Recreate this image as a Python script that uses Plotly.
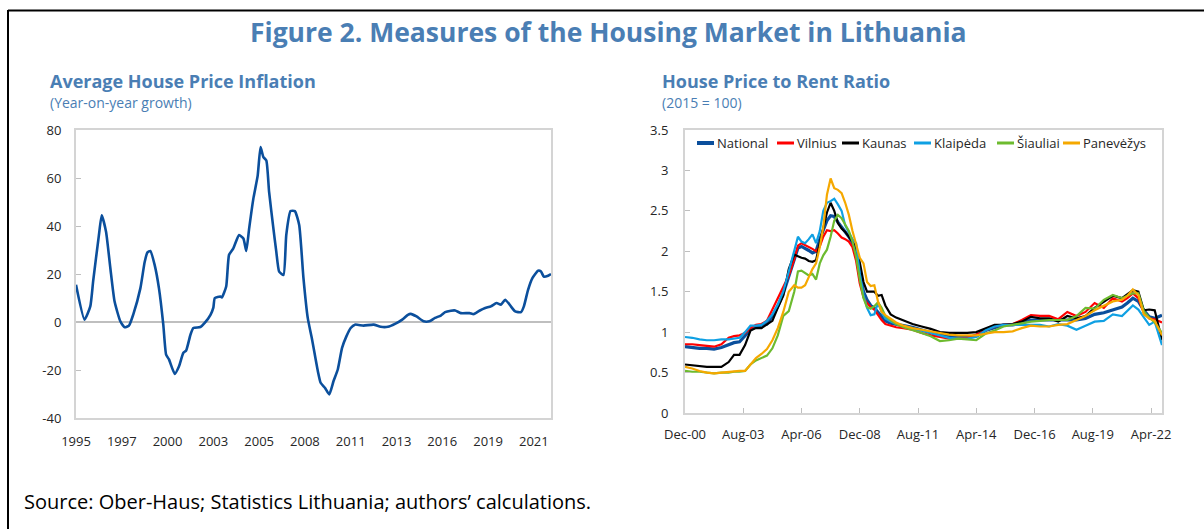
import plotly.graph_objects as go

W, H = 1204, 529

# ---------------- Left chart: Average House Price Inflation (y/y, %) ----------------
infl_dates = ["1995-01","1995-07","1995-11","1996-01","1996-05","1996-07","1996-10","1997-01","1997-04","1997-08",
              "1997-11","1998-02","1998-05","1998-10","1999-01","1999-03","1999-05","1999-08","1999-11","2000-02",
              "2000-04","2000-06","2000-10","2001-01","2001-04","2001-06","2001-09","2001-11","2002-04","2002-07",
              "2002-11","2003-01","2003-02","2003-06","2003-07","2003-10","2003-12","2004-03","2004-07","2004-10",
              "2004-12","2005-02","2005-05","2005-08","2005-10","2005-12","2006-02","2006-04","2006-07","2006-09",
              "2006-11","2007-02","2007-04","2007-07","2007-10","2008-01","2008-04","2008-07","2008-10","2009-02",
              "2009-04","2009-07","2009-10","2010-01","2010-04","2010-07","2010-10","2011-01","2011-04","2011-10",
              "2012-05","2012-10","2013-03","2013-08","2014-01","2014-05","2014-07","2014-11","2015-04","2015-08",
              "2015-12","2016-04","2016-07","2016-11","2017-02","2017-06","2017-12","2018-03","2018-07","2018-11",
              "2019-03","2019-07","2019-10","2020-01","2020-05","2020-08","2020-12","2021-02","2021-05","2021-08",
              "2021-12","2022-02","2022-04","2022-07","2022-09"]
infl_values = [15.5, 1, 6.5, 17, 36, 44.5, 37.6, 22.4, 8.5, 0.3,
               -2.2, -1.5, 3, 14, 25, 29, 29.6, 23.8, 14, -1.1,
               -13.6, -15.6, -21.6, -18.4, -12.9, -11.9, -5.3, -2.5, -2.1, -0.4,
               3, 6, 10, 10.6, 10.2, 14.8, 28, 30.7, 36.2, 34.8,
               29.6, 39, 51.4, 61, 72.9, 68.7, 67.3, 54.2, 39, 29.3,
               21, 19.6, 36.2, 46.2, 46.2, 40.4, 18.3, 1.7, -7.3, -20.5,
               -25.3, -27.4, -30.2, -24.6, -19.8, -10.8, -6, -2.5, -1.1, -1.5,
               -1.1, -2, -2, -0.8, 1, 3, 3.4, 2.3, 0.3, 0.3,
               1.7, 2.7, 4.1, 4.7, 4.8, 3.7, 3.7, 3.3, 4.7, 5.8,
               6.5, 7.9, 7.2, 9.3, 6.5, 4.4, 4.1, 6.5, 13.4, 18.3,
               21.4, 21, 18.9, 19.3, 20]
infl_range = ["1995-01-01", "2022-09-01"]
infl_tickvals = ["1995-01-01", "1997-09-01", "2000-05-01", "2003-01-01", "2005-09-01", "2008-05-01",
                 "2011-01-01", "2013-09-01", "2016-05-01", "2019-01-01", "2021-09-01"]
infl_ticktext = ["1995", "1997", "2000", "2003", "2005", "2008", "2011", "2013", "2016", "2019", "2021"]
infl_yvals = [-40, -20, 0, 20, 40, 60, 80]
infl_ytext = ["-40", "-20", "0", "20", "40", "60", "80"]

# ---------------- Right chart: House Price to Rent Ratio (2015 = 100) ----------------
ratio_dates = ["2000-12","2001-04","2001-08","2001-12","2002-04","2002-08","2002-12",
               "2003-03","2003-06","2003-09","2003-12","2004-03","2004-06","2004-09","2004-12","2005-03","2005-06","2005-09","2005-12",
               "2006-02","2006-04","2006-06","2006-08","2006-10","2006-12","2007-02","2007-04","2007-06","2007-08","2007-10","2007-12","2008-02","2008-04","2008-06","2008-08","2008-10","2008-12",
               "2009-02","2009-04","2009-06","2009-08","2009-10","2009-12","2010-02",
               "2010-05","2010-08","2010-12",
               "2011-05","2011-10","2012-03","2012-08","2013-01","2013-06","2013-11","2014-04","2014-09","2015-02","2015-07","2015-12","2016-05","2016-10","2017-03","2017-08","2018-01","2018-06","2018-11","2019-04","2019-09","2020-02","2020-07","2020-12",
               "2021-03","2021-06","2021-09","2021-12","2022-03","2022-06","2022-10"]
national = [0.82, 0.81, 0.80, 0.80, 0.79, 0.81, 0.85,
            0.87, 0.88, 0.95, 1.03, 1.07, 1.08, 1.10, 1.20, 1.32, 1.48, 1.70, 1.90,
            2.04, 2.06, 2.04, 2.01, 1.98, 2.00, 2.15, 2.27, 2.38, 2.44, 2.43, 2.36, 2.30, 2.24, 2.18, 2.10, 2.04, 1.75,
            1.50, 1.40, 1.33, 1.30, 1.25, 1.19, 1.14,
            1.11, 1.10, 1.08,
            1.06, 1.03, 1.00, 0.96, 0.95, 0.94, 0.94, 0.95, 1.02, 1.06, 1.09, 1.09, 1.11, 1.15, 1.15, 1.15, 1.15, 1.15, 1.15, 1.17, 1.22, 1.24, 1.27, 1.31,
            1.36, 1.42, 1.38, 1.27, 1.19, 1.17, 1.21]
vilnius = [0.85, 0.85, 0.84, 0.83, 0.82, 0.85, 0.93,
           0.95, 0.96, 0.99, 1.05, 1.09, 1.10, 1.14, 1.28, 1.42, 1.55, 1.70, 1.90,
           2.07, 2.10, 2.08, 2.05, 2.03, 2.00, 2.06, 2.18, 2.26, 2.25, 2.26, 2.22, 2.17, 2.15, 2.12, 2.05, 1.88, 1.60,
           1.43, 1.36, 1.31, 1.28, 1.21, 1.15, 1.10,
           1.08, 1.06, 1.05,
           1.03, 0.99, 0.96, 0.94, 0.92, 0.92, 0.93, 0.97, 1.02, 1.07, 1.09, 1.10, 1.15, 1.21, 1.20, 1.20, 1.16, 1.25, 1.20, 1.25, 1.36, 1.30, 1.42, 1.38,
           1.42, 1.48, 1.42, 1.24, 1.17, 1.16, 1.12]
kaunas = [0.60, 0.59, 0.58, 0.57, 0.57, 0.57, 0.63,
          0.72, 0.72, 0.84, 1.02, 1.05, 1.05, 1.10, 1.14, 1.30, 1.45, 1.78, 1.96,
          1.94, 1.92, 1.91, 1.88, 1.87, 1.89, 2.10, 2.30, 2.48, 2.60, 2.50, 2.35, 2.28, 2.24, 2.18, 2.12, 2.04, 1.86,
          1.62, 1.50, 1.50, 1.50, 1.45, 1.46, 1.33,
          1.22, 1.18, 1.14,
          1.10, 1.07, 1.04, 1.00, 0.99, 0.99, 0.99, 1.00, 1.05, 1.09, 1.09, 1.10, 1.13, 1.19, 1.17, 1.17, 1.13, 1.20, 1.17, 1.20, 1.30, 1.38, 1.45, 1.42,
          1.47, 1.52, 1.50, 1.27, 1.28, 1.27, 0.90]
klaipeda = [0.94, 0.93, 0.91, 0.90, 0.90, 0.91, 0.91,
            0.92, 0.93, 1.00, 1.08, 1.08, 1.09, 1.14, 1.22, 1.34, 1.50, 1.75, 2.00,
            2.18, 2.12, 2.10, 2.15, 2.21, 2.10, 2.25, 2.50, 2.60, 2.62, 2.65, 2.58, 2.50, 2.32, 2.23, 2.15, 2.10, 1.72,
            1.46, 1.30, 1.21, 1.22, 1.36, 1.25, 1.17,
            1.13, 1.10, 1.07,
            1.04, 1.02, 0.99, 0.96, 0.93, 0.92, 0.92, 0.94, 1.02, 1.07, 1.09, 1.09, 1.09, 1.09, 1.09, 1.07, 1.10, 1.08, 1.03, 1.08, 1.13, 1.14, 1.22, 1.20,
            1.27, 1.33, 1.28, 1.18, 1.09, 1.13, 0.84]
siauliai = [0.52, 0.51, 0.51, 0.50, 0.49, 0.50, 0.50,
            0.51, 0.51, 0.52, 0.60, 0.65, 0.68, 0.71, 0.80, 0.96, 1.20, 1.26, 1.50,
            1.75, 1.76, 1.73, 1.70, 1.72, 1.65, 1.85, 1.95, 2.02, 2.18, 2.38, 2.45, 2.41, 2.33, 2.25, 2.12, 1.93, 1.65,
            1.42, 1.31, 1.29, 1.32, 1.37, 1.30, 1.20,
            1.15, 1.10, 1.06,
            1.03, 0.99, 0.95, 0.89, 0.90, 0.92, 0.91, 0.90, 0.98, 1.02, 1.07, 1.09, 1.11, 1.13, 1.14, 1.15, 1.15, 1.15, 1.20, 1.30, 1.29, 1.40, 1.46, 1.42,
            1.45, 1.48, 1.48, 1.26, 1.18, 1.12, 0.99]
panevezys = [0.57, 0.55, 0.52, 0.50, 0.49, 0.50, 0.51,
             0.51, 0.52, 0.52, 0.60, 0.68, 0.73, 0.79, 0.90, 1.05, 1.25, 1.50, 1.58,
             1.55, 1.55, 1.58, 1.68, 1.78, 1.85, 2.05, 2.30, 2.70, 2.90, 2.78, 2.76, 2.72, 2.60, 2.45, 2.25, 2.10, 1.92,
             1.85, 1.62, 1.57, 1.58, 1.38, 1.25, 1.21,
             1.17, 1.12, 1.08,
             1.05, 1.03, 1.01, 0.99, 0.97, 0.96, 0.96, 0.96, 0.98, 1.00, 1.00, 1.01, 1.05, 1.08, 1.07, 1.07, 1.09, 1.10, 1.15, 1.20, 1.27, 1.33, 1.38, 1.40,
             1.45, 1.53, 1.46, 1.22, 1.17, 1.14, 0.96]
series_names = ["National", "Vilnius", "Kaunas", "Klaipėda", "Šiauliai", "Panevėžys"]
series_values = [national, vilnius, kaunas, klaipeda, siauliai, panevezys]
series_colors = ["#0B4F9C", "#FF0000", "#000000", "#0FA0E3", "#6DBB2F", "#F5A800"]
series_widths = [3.2, 2.2, 2.2, 2.2, 2.2, 2.2]
ratio_range = ["2000-12-01", "2022-10-01"]
ratio_tickvals = ["2000-12-01", "2003-08-01", "2006-04-01", "2008-12-01", "2011-08-01",
                  "2014-04-01", "2016-12-01", "2019-08-01", "2022-04-01"]
ratio_ticktext = ["Dec-00", "Aug-03", "Apr-06", "Dec-08", "Aug-11", "Apr-14", "Dec-16", "Aug-19", "Apr-22"]

# ---------------- Layout helpers (pixel -> paper) ----------------
def fx(px):
    return px / W

def fy(py):
    return 1 - py / H

BLUE_T = "#4A7EB4"
FRAME = "#D4D4D4"
TICKC = "#BFBFBF"
TXT = "#262626"
FONT = "Open Sans"

L_X0, L_X1, L_Y0, L_Y1 = 76, 551, 130, 418
R_X0, R_X1, R_Y0, R_Y1 = 685, 1162, 130, 413

fig = go.Figure()

fig.add_trace(go.Scatter(x=infl_dates, y=infl_values, mode="lines",
                         line=dict(color="#0B4F9C", width=2.6, shape="spline", smoothing=0.5),
                         xaxis="x", yaxis="y", showlegend=False, name="Average House Price Inflation"))

for name, vals, col, w in zip(series_names, series_values, series_colors, series_widths):
    fig.add_trace(go.Scatter(x=ratio_dates, y=vals, mode="lines", name=name,
                             line=dict(color=col, width=w), xaxis="x2", yaxis="y2",
                             showlegend=False))

ymin, ymax = -40, 80
zero_pos = fy(L_Y1) + (0 - ymin) / (ymax - ymin) * (fy(L_Y0) - fy(L_Y1))

axis_font = dict(family=FONT, size=13, color=TXT)

fig.update_layout(
    width=W, height=H,
    margin=dict(l=0, r=0, t=0, b=0, pad=0, autoexpand=False),
    paper_bgcolor="white", plot_bgcolor="white",
    showlegend=False,
    xaxis=dict(domain=[fx(L_X0), fx(L_X1)], type="date", range=infl_range,
               tickvals=infl_tickvals, ticktext=infl_ticktext, ticks="",
               showgrid=False, zeroline=False, showline=True, linecolor=FRAME, linewidth=2,
               mirror=True, tickfont=axis_font, ticklabelstandoff=10, anchor="y", automargin=False),
    yaxis=dict(domain=[fy(L_Y1), fy(L_Y0)], range=[ymin, ymax], tickvals=infl_yvals, ticktext=infl_ytext,
               ticks="inside", ticklen=5, tickcolor=TICKC, showgrid=False,
               zeroline=True, zerolinecolor=TICKC, zerolinewidth=1.5,
               showline=True, linecolor=FRAME, linewidth=2, mirror=True,
               tickfont=axis_font, ticklabelstandoff=10, anchor="x", automargin=False),
    xaxis3=dict(overlaying="x", anchor="free", position=zero_pos, type="date", range=infl_range,
                tickvals=infl_tickvals, ticks="inside", ticklen=5, tickcolor=TICKC, tickwidth=1,
                showticklabels=False, showgrid=False, zeroline=False, showline=False, automargin=False),
    xaxis2=dict(domain=[fx(R_X0), fx(R_X1)], type="date", range=ratio_range,
                tickvals=ratio_tickvals, ticktext=ratio_ticktext, ticks="inside", ticklen=5,
                tickcolor=TICKC, showgrid=False, zeroline=False, showline=True, linecolor=FRAME,
                linewidth=2, mirror=True, tickfont=axis_font, ticklabelstandoff=8, anchor="y2",
                automargin=False),
    yaxis2=dict(domain=[fy(R_Y1), fy(R_Y0)], range=[0, 3.5], dtick=0.5, tick0=0,
                ticks="inside", ticklen=5, tickcolor=TICKC, showgrid=False, zeroline=False,
                showline=True, linecolor=FRAME, linewidth=2, mirror=True,
                tickfont=axis_font, ticklabelstandoff=12, anchor="x2", automargin=False),
)

annotations = [
    dict(text="<b>Figure 2. Measures of the Housing Market in Lithuania</b>", x=fx(608), y=fy(32),
         xanchor="center", yanchor="middle", font=dict(family=FONT, size=26.5, color=BLUE_T)),
    dict(text="<b>Average House Price Inflation</b>", x=fx(48), y=fy(81), xanchor="left", yanchor="middle",
         font=dict(family=FONT, size=18, color=BLUE_T)),
    dict(text="(Year-on-year growth)", x=fx(48), y=fy(103), xanchor="left", yanchor="middle",
         font=dict(family=FONT, size=14, color=BLUE_T)),
    dict(text="<b>House Price to Rent Ratio</b>", x=fx(660), y=fy(81), xanchor="left", yanchor="middle",
         font=dict(family=FONT, size=18, color=BLUE_T)),
    dict(text="(2015 = 100)", x=fx(660), y=fy(103), xanchor="left", yanchor="middle",
         font=dict(family=FONT, size=14, color=BLUE_T)),
    dict(text="Source: Ober-Haus; Statistics Lithuania; authors’ calculations.", x=fx(22), y=fy(501),
         xanchor="left", yanchor="middle", font=dict(family=FONT, size=20, color="#000000")),
]

# Legend (swatch + label) for the right chart
legend_x0 = [697, 777, 842, 914, 997, 1063]
legend_y = 143
shapes = []
for name, col, w, x0 in zip(series_names, series_colors, series_widths, legend_x0):
    shapes.append(dict(type="line", xref="paper", yref="paper", x0=fx(x0), x1=fx(x0 + 17),
                       y0=fy(legend_y), y1=fy(legend_y), line=dict(color=col, width=w + 0.8)))
    annotations.append(dict(text=name, x=fx(x0 + 18), y=fy(legend_y), xanchor="left", yanchor="middle",
                            font=dict(family=FONT, size=13, color=TXT)))

# Outer figure border (top and left)
shapes.append(dict(type="line", xref="paper", yref="paper", x0=fx(8), x1=1, y0=fy(10.5), y1=fy(10.5),
                   line=dict(color="black", width=2)))
shapes.append(dict(type="line", xref="paper", yref="paper", x0=fx(8), x1=fx(8), y0=fy(10), y1=0,
                   line=dict(color="black", width=2)))

for a in annotations:
    a.setdefault("xref", "paper")
    a.setdefault("yref", "paper")
    a.setdefault("showarrow", False)
fig.update_layout(annotations=annotations, shapes=shapes)

# Remove the default page margin so the figure sits at the window origin
fig.write_html("out.html",
               config={"displayModeBar": False},
               post_script="document.body.style.margin='0';document.body.style.overflow='hidden';")
